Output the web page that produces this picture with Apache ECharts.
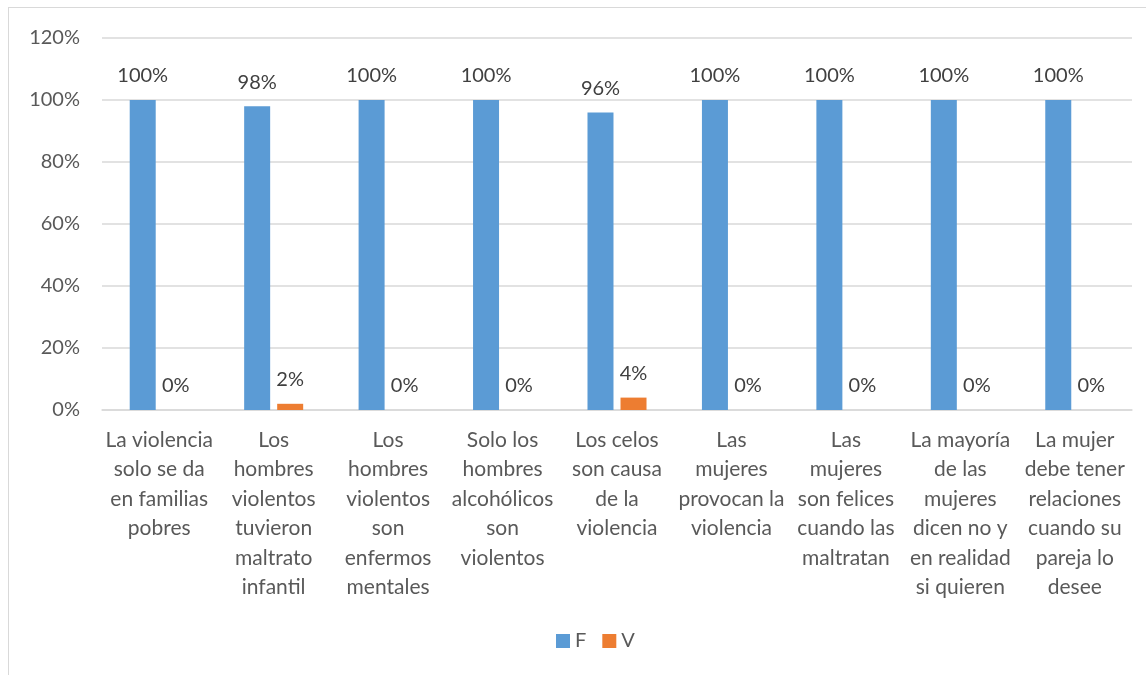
<!DOCTYPE html>
<html>
<head>
<meta charset="utf-8">
<script src="https://cdn.jsdelivr.net/npm/echarts@6/dist/echarts.min.js"></script>
<style>
  html, body { margin: 0; padding: 0; background: #fff; }
  #frame { position: absolute; left: 8px; top: 7px; width: 1146px; height: 680px; border: 1px solid #d9d9d9; box-sizing: border-box; }
  #chart { position: absolute; left: 0; top: 0; width: 1146px; height: 675px; }
</style>
</head>
<body>
<div id="frame"></div>
<div id="chart"></div>
<script>
var categories = [
  "La violencia\nsolo se da\nen familias\npobres",
  "Los\nhombres\nviolentos\ntuvieron\nmaltrato\ninfantil",
  "Los\nhombres\nviolentos\nson\nenfermos\nmentales",
  "Solo los\nhombres\nalcohólicos\nson\nviolentos",
  "Los celos\nson causa\nde la\nviolencia",
  "Las\nmujeres\nprovocan la\nviolencia",
  "Las\nmujeres\nson felices\ncuando las\nmaltratan",
  "La mayoría\nde las\nmujeres\ndicen no y\nen realidad\nsi quieren",
  "La mujer\ndebe tener\nrelaciones\ncuando su\npareja lo\ndesee"
];
var valuesF = [100, 98, 100, 100, 96, 100, 100, 100, 100];
var valuesV = [0, 2, 0, 0, 4, 0, 0, 0, 0];

var chart = echarts.init(document.getElementById("chart"));
var font = "Lato, 'Liberation Sans', sans-serif";
var option = {
  animation: false,
  textStyle: { fontFamily: font },
  grid: { left: 102, right: 14, top: 38, bottom: 265 },
  legend: {
    bottom: 19,
    left: 551,
    icon: "rect",
    itemWidth: 14,
    itemHeight: 14,
    itemGap: 16,
    itemTextGap: 6,
    textStyle: { fontSize: 20, color: "#595959", fontFamily: font },
    data: ["F", "V"]
  },
  xAxis: {
    type: "category",
    data: categories,
    axisTick: { show: false },
    axisLine: { lineStyle: { color: "#d9d9d9", width: 1.5 } },
    axisLabel: {
      interval: 0,
      fontSize: 21,
      lineHeight: 29.5,
      margin: 15,
      color: "#595959",
      fontFamily: font
    }
  },
  yAxis: {
    type: "value",
    min: 0,
    max: 120,
    interval: 20,
    axisLine: { show: false },
    axisTick: { show: false },
    splitLine: { lineStyle: { color: "#d9d9d9", width: 1.5 } },
    axisLabel: {
      formatter: "{value}%",
      fontSize: 20,
      margin: 22,
      color: "#595959",
      fontFamily: font
    }
  },
  series: [
    {
      name: "F",
      type: "bar",
      data: valuesF,
      barWidth: 26,
      barGap: "27%",
      itemStyle: { color: "#5B9BD5" },
      label: {
        show: true,
        position: "top",
        distance: 14,
        formatter: "{c}%",
        fontSize: 20,
        color: "#404040",
        fontFamily: font
      }
    },
    {
      name: "V",
      type: "bar",
      data: valuesV,
      barWidth: 26,
      itemStyle: { color: "#ED7D31" },
      label: {
        show: true,
        position: "top",
        distance: 14,
        formatter: "{c}%",
        fontSize: 20,
        color: "#404040",
        fontFamily: font
      }
    }
  ]
};
chart.setOption(option);
window.addEventListener("resize", function() {
  chart.resize();
});
</script>
</body>
</html>
